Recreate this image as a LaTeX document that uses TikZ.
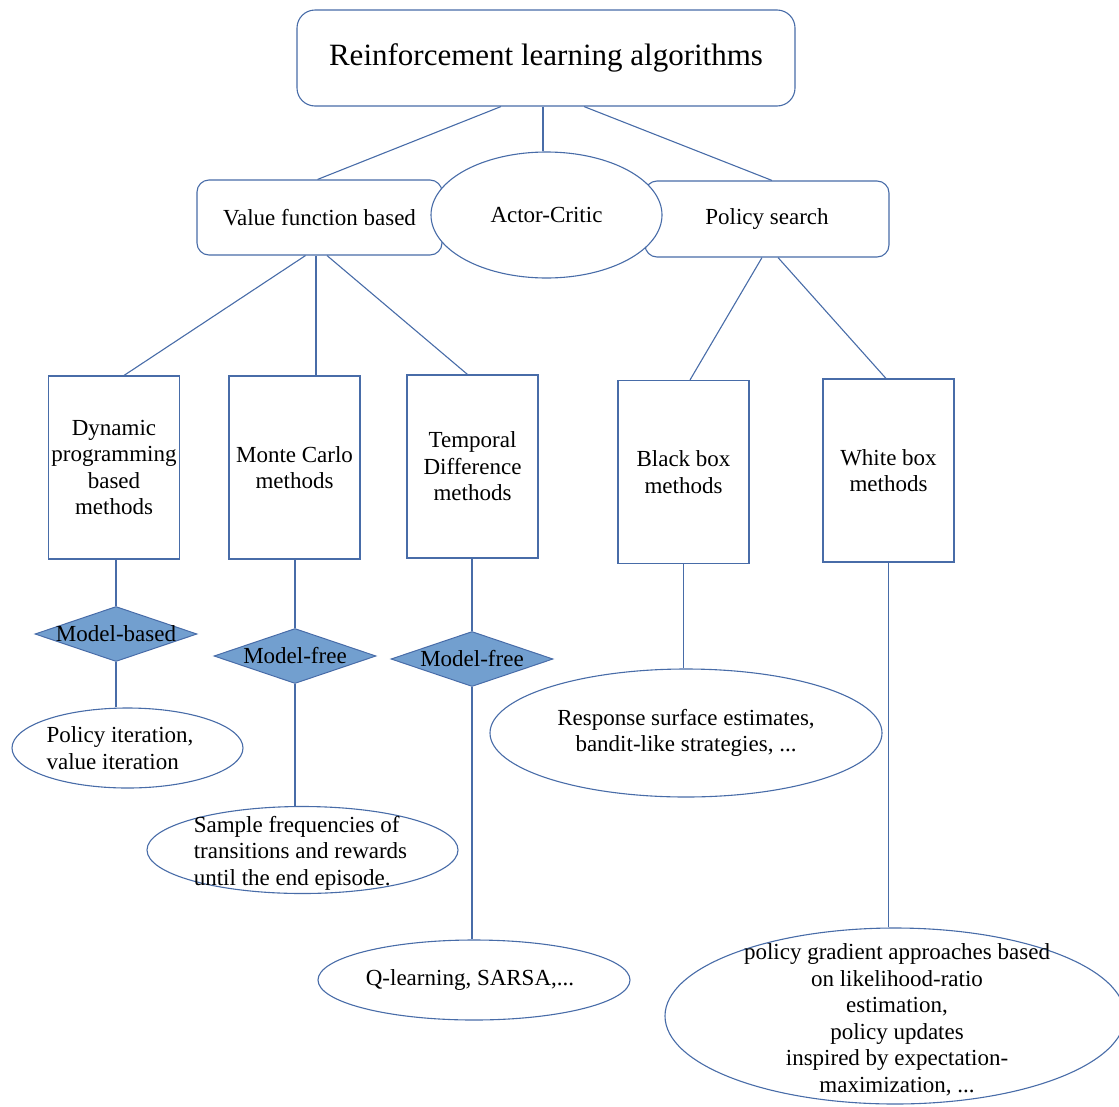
\documentclass[tikz,border=0pt]{standalone}
\usepackage{fontspec}
\setmainfont{Liberation Serif}
\usetikzlibrary{shapes.geometric}
\definecolor{edgeblue}{RGB}{72,108,168}
\definecolor{tagfill}{RGB}{114,159,207}
\begin{document}
\begin{tikzpicture}[x=1pt,y=-1pt,
  every node/.style={font=\fontsize{23}{26.5}\selectfont, text=black},
  conn/.style={draw=edgeblue, line width=1.1pt},
  rbox/.style={draw=edgeblue, line width=1.1pt, rounded corners=12pt, fill=white, inner sep=0pt},
  mbox/.style={draw=edgeblue, line width=1.1pt, fill=white, inner sep=0pt,
    minimum width=131pt, minimum height=183pt, align=center},
  tag/.style={diamond, draw=edgeblue, line width=1pt, fill=tagfill, inner sep=0pt,
    minimum width=162pt, minimum height=55pt},
  leaf/.style={ellipse, draw=edgeblue, line width=1.1pt, fill=white, inner sep=0pt},
]
\useasboundingbox (0,0) rectangle (1119,1106);
\clip (0,0) rectangle (1119,1106);

% root and first level
\node[rbox, rounded corners=18pt, minimum width=498pt, minimum height=96pt,
  font=\fontsize{31}{36}\selectfont] (top) at (546,58) {Reinforcement learning algorithms};
\node[rbox, minimum width=245pt, minimum height=75pt] (vf) at (319.5,217.5) {Value function based};
\node[rbox, minimum width=244pt, minimum height=76pt] (ps) at (767,219) {Policy search};
\node[leaf, minimum width=231pt, minimum height=126pt] (ac) at (546.5,215) {Actor-Critic};

% method families
\node[mbox] (dp) at (114,467.5) {Dynamic\\programming\\based\\methods};
\node[mbox] (mc) at (294.5,467.5) {Monte Carlo\\methods};
\node[mbox] (td) at (472.5,466.5) {Temporal\\Difference\\methods};
\node[mbox] (bb) at (683.5,472) {Black box\\methods};
\node[mbox] (wb) at (888.5,470.5) {White box\\methods};

% model tags
\node[tag] (mb) at (116,634) {\makebox[0pt]{Model-based}};
\node[tag] (mf1) at (295,656) {\makebox[0pt]{Model-free}};
\node[tag] (mf2) at (472,659) {\makebox[0pt]{Model-free}};

% examples (text shifts are in canvas units: negative yshift moves down)
\node[leaf, minimum width=231pt, minimum height=80pt] (pi) at (127.5,748) {};
\node[align=left] at ([xshift=-7.5]pi.center) {Policy iteration,\\value iteration};
\node[leaf, minimum width=311pt, minimum height=87pt] (sf) at (302.5,850) {};
\node[align=left] at ([xshift=-2,yshift=-3]sf.center)
  {Sample frequencies of\\transitions and rewards\\until the end episode.};
\node[leaf, minimum width=312pt, minimum height=80pt] (ql) at (474,980) {};
\node at ([xshift=-4]ql.center) {Q-learning, SARSA,...};
\node[leaf, minimum width=392pt, minimum height=128pt, align=center] (rs) at (686,733)
  {Response surface estimates,\\bandit-like strategies, ...};
\node[leaf, minimum width=460pt, minimum height=176pt] (pg) at (895,1016) {};
\node[align=center] at ([xshift=2,yshift=-4]pg.center) {policy gradient approaches based\\on likelihood-ratio\\estimation,\\policy updates\\inspired by expectation-\\maximization, ...};

% connectors
\draw[conn] ([xshift=-45]top.south) -- ([xshift=-2]vf.north);
\draw[conn] ([xshift=-3]top.south) -- ([xshift=-3]top.south |- ac.north);
\draw[conn] ([xshift=38]top.south) -- ([xshift=5]ps.north);
\draw[conn] ([xshift=-14]vf.south) -- ([xshift=10]dp.north);
\draw[conn] ([xshift=-3.5]vf.south) -- ([xshift=-3.5]vf.south |- mc.north);
\draw[conn] ([xshift=7.5]vf.south) -- ([xshift=-5]td.north);
\draw[conn] ([xshift=-5]ps.south) -- ([xshift=6.5]bb.north);
\draw[conn] ([xshift=11]ps.south) -- ([xshift=-2.5]wb.north);
\draw[conn] (mb.north |- dp.south) -- (mb.north);
\draw[conn] (mb.south) -- (mb.south |- pi.north);
\draw[conn] (mf1.north |- mc.south) -- (mf1.north);
\draw[conn] (mf1.south) -- (mf1.south |- sf.north);
\draw[conn] (mf2.north |- td.south) -- (mf2.north);
\draw[conn] (mf2.south) -- (mf2.south |- ql.north);
\draw[conn] (bb.south) -- (bb.south |- rs.north);
\draw[conn] (wb.south) -- (wb.south |- pg.north);
\end{tikzpicture}
\end{document}
